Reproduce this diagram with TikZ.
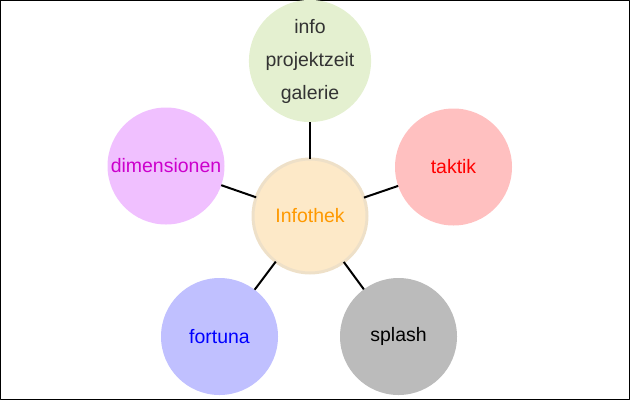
\documentclass[tikz,border=0pt]{standalone}
\usepackage{fontspec}
\setmainfont{Liberation Sans}
\definecolor{hubfill}{HTML}{FDE9C8}
\definecolor{hubline}{HTML}{EEE0C8}
\definecolor{infofill}{HTML}{E4F0D0}
\definecolor{dimfill}{HTML}{F0C0FF}
\definecolor{dimtext}{HTML}{CC00CC}
\definecolor{takfill}{HTML}{FFC0C0}
\definecolor{forfill}{HTML}{C0C0FF}
\definecolor{splfill}{HTML}{BBBBBB}
\definecolor{hubtext}{HTML}{FF9900}
\begin{document}
\begin{tikzpicture}[x=0.75pt,y=-0.75pt,line join=bevel]
  \tikzstyle{bubble}=[circle,minimum size=87.75pt,inner sep=0pt,outer sep=0pt,
    font=\fontsize{14.6}{24.75}\selectfont,align=center]
  \tikzstyle{link}=[line width=1.5pt]
  \useasboundingbox (0,0) rectangle (630,400);
  \draw[line width=0.75pt] (0.5,0.5) rectangle (629.5,399.5);
  \node[bubble,fill=hubfill,draw=hubline,line width=2.25pt,text=hubtext,minimum size=85.5pt] (M_0) at (310,216) {Infothek};
  \node[bubble,fill=infofill,text=black!80] (M_1) at (310,61) {info\\projektzeit\\galerie};
  \node[bubble,fill=dimfill,text=dimtext] (M_2) at (166,166) {dimensionen};
  \node[bubble,fill=takfill,text=red] (M_3) at (453.5,167) {taktik};
  \node[bubble,fill=forfill,text=blue] (M_4) at (219.5,336.5) {fortuna};
  \node[bubble,fill=splfill,text=black] (M_5) at (398.5,336.5) {splash};
  \draw[link] (M_0) -- (M_1);
  \draw[link] (M_0) -- (M_2);
  \draw[link] (M_0) -- (M_3);
  \draw[link] (M_0) -- (M_4);
  \draw[link] (M_0) -- (M_5);
\end{tikzpicture}
\end{document}
